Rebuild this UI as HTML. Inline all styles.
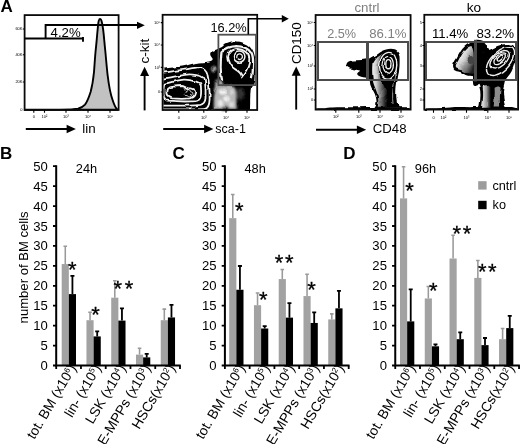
<!DOCTYPE html>
<html lang="en">
<head>
<meta charset="utf-8">
<title>Figure</title>
<style>
html,body{margin:0;padding:0;background:#fff;}
body{width:520px;height:444px;overflow:hidden;}
svg{display:block;font-family:"Liberation Sans",sans-serif;}
</style>
</head>
<body>
<svg width="520" height="444" viewBox="0 0 520 444">
<defs>
<filter id="rough" x="-5%" y="-5%" width="110%" height="110%"><feTurbulence type="fractalNoise" baseFrequency="0.1" numOctaves="2" seed="4" result="n"/><feDisplacementMap in="SourceGraphic" in2="n" scale="3.5" xChannelSelector="R" yChannelSelector="G"/></filter>
<filter id="blur1"><feGaussianBlur stdDeviation="1.1"/></filter>
<filter id="blur07"><feGaussianBlur stdDeviation="0.7"/></filter>
<linearGradient id="g3" gradientUnits="userSpaceOnUse" x1="371.5" y1="0" x2="387" y2="0"><stop offset="0" stop-color="#f4f4f4"/><stop offset="0.3" stop-color="#cfcfcf"/><stop offset="0.62" stop-color="#6e6e6e"/><stop offset="1" stop-color="#000"/></linearGradient>
<linearGradient id="g4" gradientUnits="userSpaceOnUse" x1="458" y1="54" x2="476" y2="64"><stop offset="0" stop-color="#fafafa"/><stop offset="0.35" stop-color="#cfcfcf"/><stop offset="0.7" stop-color="#7a7a7a"/><stop offset="1" stop-color="#222"/></linearGradient>
<linearGradient id="g4s" gradientUnits="userSpaceOnUse" x1="482" y1="0" x2="491" y2="0"><stop offset="0" stop-color="#eee"/><stop offset="0.5" stop-color="#9a9a9a"/><stop offset="1" stop-color="#000"/></linearGradient>
</defs>
<rect width="520" height="444" fill="#fff"/>
<!-- panel letters -->
<g font-weight="bold" font-size="17">
<text x="0.4" y="12.3">A</text>
<text x="0" y="158.7">B</text>
<text x="172.6" y="158.7">C</text>
<text x="343.2" y="158.7">D</text>
</g>

<!-- ===== plot 1 : histogram ===== -->
<g id="p1">
<path d="M25 109.8 L60 109.6 C68 109.5 74 109.4 78 108.6 C81 107.8 83.4 106.4 85 104.6 C87.4 101.6 89 97 90.6 92 C92.2 86 93.2 80 94 72 C94.6 64 95 57 95.7 50 C96.5 43 97 36 97.6 30 C98 25 98.4 21.4 99 20 C99.4 18.6 100.6 18.6 101.2 20 C102 22 102.6 25.6 103.2 30 C104 36 104.4 43 105.2 50 C106 58 106.6 66 107.6 75 C108.8 85 110.4 94 112.6 100 C114 104.4 115.4 108 117.6 109.8 Z" fill="#c2c2c2" stroke="#000" stroke-width="1.9" stroke-linejoin="round"/>
<rect x="24.6" y="15.1" width="94" height="94.9" fill="none" stroke="#0a0a0a" stroke-width="1.8"/>
<path d="M24.5 38.5H83M83 37v4.8M45.6 38.5V25H138" stroke="#000" stroke-width="1.9" fill="none"/>
<path d="M144.8 25.3l-7.8-3.6v7.2z" fill="#000"/>
<text x="50.6" y="37.2" font-size="13.2">4.2%</text>
<g font-size="4" text-anchor="end" fill="#000"><text x="22.5" y="30.2">60K</text><text x="22.5" y="56">40K</text><text x="22.5" y="83.2">20K</text><text x="22.5" y="110.5">0</text></g>
<path d="M22.8 29h1.7M22.8 54.8h1.7M22.8 82h1.7M33.8 110v2.8M44.5 110v2.8M66 110v2.8M88 110v2.8M110 110v2.8" stroke="#000" stroke-width="1.1"/>
<g font-size="4" text-anchor="middle" fill="#000"><text x="33.8" y="118.3">0</text><text x="44.5" y="118.3">10²</text><text x="66" y="118.3">10³</text><text x="88" y="118.3">10⁴</text><text x="110" y="118.3">10⁵</text></g>
<path d="M25.8 129H68" stroke="#000" stroke-width="1.9"/><path d="M75.9 129l-9.3-4.3v8.6z"/>
<text x="82.3" y="132.6" font-size="13.4">lin</text>
</g>

<!-- ===== plot 2 : c-kit / sca-1 ===== -->
<g id="p2">
<g filter="url(#rough)" transform="translate(0.4 0.8)">
<path d="M163 68 C170 66.8 176 66.2 181 65.6 C188 64.6 193 62.4 198.5 61.7 C203 61.2 206 61.4 208.5 60.8 C211 60.2 212.6 59.6 212.2 57.8 C211.4 56 209.4 55 209.8 52.6 C210.2 50.2 213 49.2 215.8 48.4 C217.5 47.6 219.6 47.4 221.5 46.3 C223 45.3 224 43.8 225.4 42.8 C229 40.8 233 40.4 236.9 40.6 C240.5 40.8 243.8 41.8 246.5 43.8 C249.6 46 252 49 253.3 52.4 C255.2 58 255.4 63 255.3 68.5 C255.2 74 255.6 79 254.2 83.8 C253.4 86 250.8 86 250.4 88 C249.4 95 250 102 249.6 109.3 L163 109.3 Z" fill="#000"/>
<!-- low density grey zone -->
<g filter="url(#blur1)">
<path d="M215.6 87 C219 83.5 230 84 234.6 87 C237 93 235.6 100 236.4 108.4 L213.6 108.4 C213 100 213.6 93 215.6 87Z" fill="#b8b8b8"/>
<path d="M216 79.6 C218 77.6 222 78.6 223 82 L222 87 L215.4 87Z" fill="#a0a0a0"/>
<ellipse cx="222" cy="91" rx="3.4" ry="2.6" fill="#f4f4f4"/>
<ellipse cx="226.6" cy="97.6" rx="2.6" ry="3.6" fill="#efefef"/>
<ellipse cx="220" cy="102" rx="2.8" ry="3" fill="#e8e8e8"/>
<ellipse cx="231" cy="103.6" rx="2.4" ry="2.6" fill="#ddd"/><ellipse cx="231.6" cy="91" rx="2" ry="2.4" fill="#d8d8d8"/><ellipse cx="224.6" cy="107.6" rx="4" ry="2.2" fill="#000"/>
<ellipse cx="213.5" cy="68.5" rx="2.6" ry="3" fill="#a8a8a8"/>
<ellipse cx="240" cy="93" rx="4" ry="6" fill="#333"/>
</g>
<!-- lower-left contour rings -->
<g fill="none" stroke="#f2f2f2" stroke-width="1.8">
<path d="M162.5 71.7 C175 70.5 188 68 198.7 66.4 C203 66 206 69 206.9 72.9 C208.5 80 209.4 90 209.2 98.7 C209 104 207.5 107.4 204.5 108 C200 108.8 180 108.6 162.5 108.6"/>
<path d="M163 77.8 C172 76.5 181 74.2 189.3 73.5 C193 73.3 196 74.2 198.7 74.7 C202 75.6 204 77.5 204.5 80 C205.3 86 205.4 92 205.1 97.5 C204.8 101.5 203 103.5 199.9 104 C190 105 175 105 162.5 104.8"/>
<path d="M165.3 82.9 C170 81.4 177 79.2 183.4 78.8 C188 78.6 192 79.6 195.2 80.5 C198.6 81.4 200.2 83 200.4 85.2 C200.8 88 200.8 92 200.4 95.2 C200 98.4 198.4 100 195.2 100.4 C186 101 175 100.6 167 99.9 C165 99.4 164.2 96 164.1 92.8 C164 89 164.2 85 165.3 82.9Z"/>
<path d="M167.6 88.1 C168.8 86.6 170.6 85.9 172.9 85.8 C176 85.4 178.6 85.2 181.1 85.2 C184 85.4 185 87 187.6 87.4 C190.6 87.4 193.4 88.4 194.6 90.5 C195.4 93 193.4 96.6 189.3 97.5 C184 98.2 177 98 171.7 97.5 C168.6 97 167 95.2 167 92.8 C166.9 91 167 89.4 167.6 88.1Z"/>
</g>
<path d="M186.4 89.4 c1.6 -1 3.4 -.6 3.6 1 c.2 1.4 1.8 .4 2.4 1.6 c.4 1.4 -1.4 1.6 -1.6 3 c-.6 1.4 -2.8 1.4 -3.6 .2 c-.8 -1 -2.4 .2 -2.8 -1.2 c-.2 -1.6 1.6 -1.4 1.4 -2.8 c-.2 -.8 0 -1.4 .6 -1.8z" fill="none" stroke="#dcdcdc" stroke-width="1"/>
<path d="M183.6 87.6 l1.4 1.2 M189.6 93.2 l1 .8" stroke="#ccc" stroke-width="0.9"/>
<!-- upper-right contours -->
<g fill="none" stroke="#f2f2f2" stroke-linecap="round">
<path d="M221.6 78 C220 72 219.8 62 221.2 51.5 C225 47.6 231 45.4 236.9 45.4 C243 45.6 248 48 250.6 52 C253 56 252.9 62 252.6 66 C252.4 70 252.4 73 251.6 76.5" stroke-width="2.3"/>
<path d="M227.7 54.5 C228.4 50.6 232 48.2 236.9 48.2 C243 48.4 248.6 52 248.9 57.7 C249.2 64 246 70.6 241.5 76 C240.6 72.6 238.4 70.4 235 68.6 C231 66.4 227.4 60 227.7 54.5Z" stroke-width="1.8"/>
<circle cx="238.8" cy="55.8" r="5.7" stroke-width="1.5"/>
<path d="M236.4 56.8 C236 54 238 52.8 240 53.2 C242 53.8 242.6 56 241.4 57.6 C240.4 58.8 238.6 58.8 237.6 58" stroke-width="1.3"/>
</g>
</g>
<rect x="162.6" y="14.8" width="94.6" height="95.2" fill="none" stroke="#0a0a0a" stroke-width="1.8"/>
<rect x="218.4" y="34.7" width="37.6" height="50.4" fill="none" stroke="#505050" stroke-width="1.8"/>
<path d="M248.3 34.4V18.8H283" stroke="#000" stroke-width="1.6" fill="none"/>
<path d="M288.8 18.8l-7-3.8v7.6z"/>
<text x="210.4" y="32.4" font-size="12.8">16.2%</text>
<path d="M160.8 22.6h2.2M160.8 45h2.2M160.8 67.4h2.2M160.8 92h2.2M178.8 110v2.8M203.8 110v2.8M226 110v2.8M247 110v2.8" stroke="#000" stroke-width="1.1"/>
<g font-size="4" text-anchor="end" fill="#000"><text x="160.2" y="23.8">10⁵</text><text x="160.2" y="46.2">10⁴</text><text x="160.2" y="68.6">10³</text><text x="160.2" y="93.2">0</text></g>
<g font-size="4" text-anchor="middle" fill="#000"><text x="178.8" y="118.6">0</text><text x="203.8" y="118.6">10³</text><text x="226" y="118.6">10⁴</text><text x="247" y="118.6">10⁵</text></g>
<text transform="translate(148.7 63.4) rotate(-90)" font-size="13.5">c-kit</text>
<path d="M144.6 110.4V75" stroke="#000" stroke-width="1.9"/><path d="M144.6 66.8l-4.5 9.3h9z"/>
<path d="M163.2 129H206" stroke="#000" stroke-width="1.9"/><path d="M213.4 129l-9.3-4.3v8.6z"/>
<text x="215.3" y="132.9" font-size="12.5">sca-1</text>
</g>

<!-- ===== plot 3 : cntrl ===== -->
<g id="p3">
<g filter="url(#rough)">
<!-- bottom strip -->
<path d="M316 110 L316 108.6 C320 107.8 324 108.8 330 107.6 C340 106.8 352 107.4 366 107 L409.5 107.2 L410 110Z" fill="#000"/>
<path d="M346.4 64.6 C346.8 61.6 350 60.4 354 60.4 C359 60.4 364 59.8 368.8 58.8 C371 57.4 373 56.2 375.5 55 C377.6 53.6 379 52 381.3 51.2 C384.4 49.6 387.6 48.7 390.9 48.7 C393.6 48.8 396.2 49.4 397.7 51.2 C399.4 53.4 399.6 56 399.6 58.8 C399.8 64 399.4 69 398.6 74.2 C398 77.6 397.4 80.6 396.9 83.8 C396.4 87 396.2 90 396.2 93.5 C396.2 97 396.4 100 397 103 C397.6 105 398.6 106.2 400.4 107.6 L374 107.6 C375.6 106 376.6 103.6 376.5 101 C376.3 98.4 375.6 96 374.6 93.5 C373.4 90.8 371.6 88.6 370.7 85.8 C370 84 369.9 82 369.8 80 C369 79 368 78.4 367.3 78 C364.6 77.4 361.6 77.2 359.2 76 C357.8 75.4 356.8 74.4 357.3 73.3 C358 72 360 71.4 360 70.4 C357.6 69.8 355 69.8 352.5 69.2 C350.6 68.8 348.4 68.2 347.3 67 C346.6 66.4 346.3 65.4 346.4 64.6Z" fill="#000"/>
<g filter="url(#blur07)">
<path d="M372.6 62.6 C374.6 58.6 378 55.6 382.4 53.6 C380 57 378.6 62 378.6 68 C378.6 74 380.4 79 383 84 C386 90 388 97 388.4 106.8 L377.8 106.8 C378.6 102 378.4 98 377.4 94 C376.4 90 374.4 87 373.4 83 C372.2 78 371.8 68 372.6 62.6Z" fill="url(#g3)"/>
<path d="M396.6 60 C397 68 396.4 76 394 84 C392.6 90 392.2 97 393 104" fill="none" stroke="#ddd" stroke-width="0.7"/>
</g>
<g fill="none" stroke="#f2f2f2" stroke-width="1.35">
<path d="M379.4 66 C379.4 59 383 53 388.6 52.4 C394 52.2 397 58 396.8 65 C396.6 72 393 79 388.6 79.2 C383.4 79 379.6 73 379.4 66Z"/>
<ellipse cx="388.2" cy="64.8" rx="5.2" ry="8.4"/>
<ellipse cx="388.4" cy="64.2" rx="2.6" ry="4.6"/>
</g>
</g>
<rect x="315.6" y="15" width="95" height="94.6" fill="none" stroke="#0a0a0a" stroke-width="1.8"/>
<rect x="318" y="42" width="90" height="38" fill="none" stroke="#4c4c4c" stroke-width="2"/>
<path d="M367.5 42V80" stroke="#4c4c4c" stroke-width="3"/>
<text x="354.4" y="12.4" font-size="13.3" fill="#7f7f7f">cntrl</text>
<text x="327.2" y="37.8" font-size="12.7" fill="#7f7f7f">2.5%</text>
<text x="369.2" y="38" font-size="13.2" fill="#7f7f7f">86.1%</text>
<path d="M313.8 22.5h2.2M313.8 45.5h2.2M313.8 66h2.2M313.8 89h2.2M313.8 100h2.2M335.8 110v2.8M358.8 110v2.8M380 110v2.8M401 110v2.8" stroke="#000" stroke-width="1.1"/>
<g font-size="4" text-anchor="end" fill="#000"><text x="313.2" y="23.7">10⁵</text><text x="313.2" y="46.7">10⁴</text><text x="313.2" y="67.2">10³</text><text x="313.2" y="90.2">10²</text><text x="313.2" y="101.2">0</text></g>
<g font-size="4" text-anchor="middle" fill="#000"><text x="335.8" y="118.4">10²</text><text x="358.8" y="118.4">10³</text><text x="380" y="118.4">10⁴</text><text x="401" y="118.4">10⁵</text></g>
<text transform="translate(301.3 64) rotate(-90)" font-size="13.4">CD150</text>
<path d="M296.2 109.6V74" stroke="#000" stroke-width="1.9"/><path d="M296.2 66.4l-4.5 9.3h9z"/>
<path d="M316 129.7H358" stroke="#000" stroke-width="1.9"/><path d="M366.2 129.7l-9.3-4.3v8.6z"/>
<text x="372.8" y="133.2" font-size="13.2">CD48</text>
</g>

<!-- ===== plot 4 : ko ===== -->
<g id="p4">
<g filter="url(#rough)">
<path d="M424.6 110 L424.6 108.6 C432 107.8 440 108.4 450 107.4 C458 106.8 468 107.4 478 107 L512 107 C514 107.6 516 108 517.6 108.6 L517.8 110Z" fill="#000"/>
<path d="M472.9 43.2 C471.4 43 469.6 43.4 468.2 44.1 C466 45.4 464 47 462.5 48.8 C460.2 51.8 458.6 55 456.9 58.3 C455.4 60.8 453.6 63.2 453.1 65.8 C452.8 67.8 453.6 69.6 455 70.5 C457 71.6 459.6 71.6 461.6 72.4 C463.4 73.2 464.6 74.6 466.3 75.2 C468.6 76 471.4 75.8 473.8 76.2 C473 77.8 472.4 79.8 472.9 81.8 C473.2 83.2 473 84.8 473.8 85.6 C475 86.6 477 85.4 478.5 84.7 C479.6 87 480.2 89.6 480.4 92.2 C480.6 96.6 480.2 101 479.5 105.4 L478.6 107.6 L506.5 107.6 C505.6 107 505.2 106.2 504.9 105.4 C503.8 101 503 96.6 503 92.2 C503.2 88.4 503.8 84.6 504.9 80.9 C506.8 77.6 509.6 74.8 511.5 71.5 C513.6 67.4 514.8 62.8 515.3 58.3 C515.8 54.6 515.8 50.8 514.4 47.9 C513.2 45.6 511 44.4 508.7 44.1 C504.8 43.8 501 44.6 497.4 46 C494 47.4 491.2 49.4 488 50.7 C485 51.8 481.6 52.8 478.5 52.6 C476.8 52 476 50.4 475.7 48.8 C475.2 46.6 474.4 44.4 472.9 43.2Z" fill="#000"/>
<path d="M467.6 45 C469.6 43 472.6 42 475.4 40.2 C477.4 39.4 480 39.8 482 40.6 C484.4 41.6 485.6 43 486.6 45 C487.6 47 489 49 490 51 L478 54 L471 48Z" fill="#000"/>
<g filter="url(#blur07)">
<path d="M471.4 46 C472.8 48 473.4 51 473.6 54 C473.8 60 474 66 474 73.6 C470 73.8 467 73 464.6 71.4 C462 70 458.6 70 456.4 68.6 C455.2 67.4 455.6 65.4 456.6 63.6 C458.6 60 460.4 56 463 52.4 C465.2 49.4 468 46.6 471.4 46Z" fill="url(#g4)"/>
<ellipse cx="470.6" cy="60" rx="3" ry="4" fill="#444"/>
<path d="M482.6 86 C484.6 84.6 488 85 490.4 87 C491.6 93 491.4 100 490.4 106.8 L482 106.8 C483.2 100 483.6 92 482.6 86Z" fill="url(#g4s)"/>
<path d="M494.6 88 C497 86 499.6 86 500.6 88 C500 94 499.6 100 500 106.6 L493.6 106.6 C494.6 100 495 94 494.6 88Z" fill="#8c8c8c"/>
</g>
<g fill="none" stroke="#f2f2f2" stroke-width="1.35">
<g transform="rotate(-42 500.2 58.3)">
<ellipse cx="500.4" cy="58.2" rx="3.8" ry="1.8"/>
<ellipse cx="499.8" cy="58.6" rx="7.6" ry="4"/>
<ellipse cx="498.8" cy="59" rx="11.8" ry="6.4"/>
</g>
<path d="M487.6 73.6 C485.4 69 487 63 491 58 C495.6 52.4 503 46.6 509.4 46.6 C513.6 47 514 52 513.2 57 C512 63 508 68 503 71.6 C498 75 490.6 77.4 487.6 73.6Z"/>
</g>
</g>
<rect x="424.3" y="14.8" width="93.8" height="94.8" fill="none" stroke="#0a0a0a" stroke-width="1.8"/>
<rect x="426" y="42" width="90" height="38" fill="none" stroke="#4c4c4c" stroke-width="2"/>
<path d="M475.5 39.8V81.4" stroke="#4c4c4c" stroke-width="3"/>
<text x="473.9" y="12.4" text-anchor="middle" font-size="13.6">ko</text>
<text x="431.9" y="37.9" font-size="13.2">11.4%</text>
<text x="476.4" y="37.9" font-size="13.3">83.2%</text>
<path d="M422.5 22.5h2.2M422.5 45.5h2.2M422.5 66h2.2M422.5 89h2.2M422.5 100h2.2M433.5 110v2.8M443.4 110v2.8M466.5 110v2.8M487.8 110v2.8M509 110v2.8" stroke="#000" stroke-width="1.1"/>
<g font-size="4" text-anchor="end" fill="#000"><text x="421.9" y="23.7">5</text><text x="421.9" y="46.7">4</text><text x="421.9" y="67.2">3</text><text x="421.9" y="90.2">2</text><text x="421.9" y="101.2">0</text></g>
<g font-size="4" text-anchor="middle" fill="#000"><text x="433.5" y="118.6">0</text><text x="443.4" y="118.6">10²</text><text x="466.5" y="118.6">10³</text><text x="487.8" y="118.6">10⁴</text><text x="509" y="118.6">10⁵</text></g>
</g>

<!-- legend -->
<rect x="478.2" y="181.2" width="8.4" height="8.4" fill="#9c9c9c"/>
<rect x="478.2" y="200.8" width="8.4" height="8.4" fill="#000"/>
<text x="492.4" y="189.7" font-size="12.7">cntrl</text>
<text x="492.6" y="208.9" font-size="12.7">ko</text>
<text transform="translate(28.2 323.4) rotate(-90)" font-size="13.1">number of BM cells</text>

<g id="chartB">
<path d="M65.28 264.04V246.25M63.48 246.25h3.6" stroke="#9a9a9a" stroke-width="1.55" fill="none"/>
<path d="M72.43 294.1V275.91M70.43 275.91h4" stroke="#000" stroke-width="1.8" fill="none"/>
<rect x="61.7" y="264.04" width="7.15" height="101.46" fill="#a2a2a2"/>
<rect x="68.85" y="294.1" width="7.15" height="71.4" fill="#000"/>
<path d="M90.04 320.2V312.29M88.24 312.29h3.6" stroke="#9a9a9a" stroke-width="1.55" fill="none"/>
<path d="M97.19 336.42V331.28M95.19 331.28h4" stroke="#000" stroke-width="1.8" fill="none"/>
<rect x="86.46" y="320.2" width="7.15" height="45.3" fill="#a2a2a2"/>
<rect x="93.61" y="336.42" width="7.15" height="29.08" fill="#000"/>
<path d="M114.8 297.66V280.65M113 280.65h3.6" stroke="#9a9a9a" stroke-width="1.55" fill="none"/>
<path d="M121.95 320.6V308.34M119.95 308.34h4" stroke="#000" stroke-width="1.8" fill="none"/>
<rect x="111.22" y="297.66" width="7.15" height="67.84" fill="#a2a2a2"/>
<rect x="118.37" y="320.6" width="7.15" height="44.9" fill="#000"/>
<path d="M139.56 354.61V348.28M137.75 348.28h3.6" stroke="#9a9a9a" stroke-width="1.55" fill="none"/>
<path d="M146.71 357.38V353.82M144.71 353.82h4" stroke="#000" stroke-width="1.8" fill="none"/>
<rect x="135.98" y="354.61" width="7.15" height="10.89" fill="#a2a2a2"/>
<rect x="143.13" y="357.38" width="7.15" height="8.12" fill="#000"/>
<path d="M164.31 320.2V309.13M162.51 309.13h3.6" stroke="#9a9a9a" stroke-width="1.55" fill="none"/>
<path d="M171.47 317.44V304.78M169.47 304.78h4" stroke="#000" stroke-width="1.8" fill="none"/>
<rect x="160.74" y="320.2" width="7.15" height="45.3" fill="#a2a2a2"/>
<rect x="167.89" y="317.44" width="7.15" height="48.06" fill="#000"/>
<path d="M56.2 165.3V366.5M55.2 365.5H180.8" stroke="#000" stroke-width="2" fill="none"/>
<path d="M53 365.5h3.2M53 345.57h3.2M53 325.64h3.2M53 305.71h3.2M53 285.78h3.2M53 265.85h3.2M53 245.92h3.2M53 225.99h3.2M53 206.06h3.2M53 186.13h3.2M53 166.2h3.2M56.2 365.5v3.6M80.96 365.5v3.6M105.72 365.5v3.6M130.48 365.5v3.6M155.24 365.5v3.6M180 365.5v3.6" stroke="#000" stroke-width="1.8" fill="none"/>
<text x="47.9" y="369.8" text-anchor="end" font-size="13.1">0</text>
<text x="47.9" y="349.9" text-anchor="end" font-size="13.1">5</text>
<text x="47.9" y="330" text-anchor="end" font-size="13.1">10</text>
<text x="47.9" y="310.1" text-anchor="end" font-size="13.1">15</text>
<text x="47.9" y="290.2" text-anchor="end" font-size="13.1">20</text>
<text x="47.9" y="270.3" text-anchor="end" font-size="13.1">25</text>
<text x="47.9" y="250.4" text-anchor="end" font-size="13.1">30</text>
<text x="47.9" y="230.5" text-anchor="end" font-size="13.1">35</text>
<text x="47.9" y="210.6" text-anchor="end" font-size="13.1">40</text>
<text x="47.9" y="190.7" text-anchor="end" font-size="13.1">45</text>
<text x="47.9" y="170.8" text-anchor="end" font-size="13.1">50</text>
<text x="75.8" y="173" font-size="12.8">24h</text>
<text transform="translate(76.8 367.9) rotate(-59.5)" text-anchor="end" font-size="13.85">tot. BM (x10<tspan font-size="8" dy="-4.5">6</tspan><tspan dy="4.5">)</tspan></text>
<text transform="translate(101.56 367.9) rotate(-59.5)" text-anchor="end" font-size="13.85">lin- (x10<tspan font-size="8" dy="-4.5">5</tspan><tspan dy="4.5">)</tspan></text>
<text transform="translate(126.32 367.9) rotate(-59.5)" text-anchor="end" font-size="13.85">LSK (x10<tspan font-size="8" dy="-4.5">4</tspan><tspan dy="4.5">)</tspan></text>
<text transform="translate(151.08 367.9) rotate(-59.5)" text-anchor="end" font-size="13.85">E-MPPs (x10<tspan font-size="8" dy="-4.5">3</tspan><tspan dy="4.5">)</tspan></text>
<text transform="translate(175.84 367.9) rotate(-59.5)" text-anchor="end" font-size="13.85">HSCs(x10<tspan font-size="8" dy="-4.5">2</tspan><tspan dy="4.5">)</tspan></text>
<text x="72.2" y="276.6" text-anchor="middle" font-size="22" stroke="#000" stroke-width="0.3">*</text>
<text x="95.5" y="322.2" text-anchor="middle" font-size="22" stroke="#000" stroke-width="0.3">*</text>
<text x="117.8" y="296.4" text-anchor="middle" font-size="22" stroke="#000" stroke-width="0.3">*</text>
<text x="129" y="296.4" text-anchor="middle" font-size="22" stroke="#000" stroke-width="0.3">*</text>
</g>
<g id="chartC">
<path d="M232.78 218.16V194.44M230.97 194.44h3.6" stroke="#9a9a9a" stroke-width="1.55" fill="none"/>
<path d="M239.93 289.75V266.02M237.93 266.02h4" stroke="#000" stroke-width="1.8" fill="none"/>
<rect x="229.2" y="218.16" width="7.15" height="147.34" fill="#a2a2a2"/>
<rect x="236.35" y="289.75" width="7.15" height="75.75" fill="#000"/>
<path d="M257.54 305.18V292.91M255.74 292.91h3.6" stroke="#9a9a9a" stroke-width="1.55" fill="none"/>
<path d="M264.69 328.51V326.14M262.69 326.14h4" stroke="#000" stroke-width="1.8" fill="none"/>
<rect x="253.96" y="305.18" width="7.15" height="60.33" fill="#a2a2a2"/>
<rect x="261.11" y="328.51" width="7.15" height="36.99" fill="#000"/>
<path d="M282.3 279.07V269.58M280.5 269.58h3.6" stroke="#9a9a9a" stroke-width="1.55" fill="none"/>
<path d="M289.44 317.63V303.2M287.44 303.2h4" stroke="#000" stroke-width="1.8" fill="none"/>
<rect x="278.72" y="279.07" width="7.15" height="86.43" fill="#a2a2a2"/>
<rect x="285.87" y="317.63" width="7.15" height="47.87" fill="#000"/>
<path d="M307.06 296.08V274.33M305.25 274.33h3.6" stroke="#9a9a9a" stroke-width="1.55" fill="none"/>
<path d="M314.2 322.97V312.29M312.2 312.29h4" stroke="#000" stroke-width="1.8" fill="none"/>
<rect x="303.48" y="296.08" width="7.15" height="69.42" fill="#a2a2a2"/>
<rect x="310.63" y="322.97" width="7.15" height="42.53" fill="#000"/>
<path d="M331.81 319.41V313.88M330.01 313.88h3.6" stroke="#9a9a9a" stroke-width="1.55" fill="none"/>
<path d="M338.96 308.34V290.94M336.96 290.94h4" stroke="#000" stroke-width="1.8" fill="none"/>
<rect x="328.24" y="319.41" width="7.15" height="46.09" fill="#a2a2a2"/>
<rect x="335.39" y="308.34" width="7.15" height="57.16" fill="#000"/>
<path d="M224.9 165.3V366.5M223.9 365.5H349.5" stroke="#000" stroke-width="2" fill="none"/>
<path d="M221.7 365.5h3.2M221.7 345.57h3.2M221.7 325.64h3.2M221.7 305.71h3.2M221.7 285.78h3.2M221.7 265.85h3.2M221.7 245.92h3.2M221.7 225.99h3.2M221.7 206.06h3.2M221.7 186.13h3.2M221.7 166.2h3.2M224.9 365.5v3.6M249.66 365.5v3.6M274.42 365.5v3.6M299.18 365.5v3.6M323.94 365.5v3.6M348.7 365.5v3.6" stroke="#000" stroke-width="1.8" fill="none"/>
<text x="216.6" y="369.8" text-anchor="end" font-size="13.1">0</text>
<text x="216.6" y="349.9" text-anchor="end" font-size="13.1">5</text>
<text x="216.6" y="330" text-anchor="end" font-size="13.1">10</text>
<text x="216.6" y="310.1" text-anchor="end" font-size="13.1">15</text>
<text x="216.6" y="290.2" text-anchor="end" font-size="13.1">20</text>
<text x="216.6" y="270.3" text-anchor="end" font-size="13.1">25</text>
<text x="216.6" y="250.4" text-anchor="end" font-size="13.1">30</text>
<text x="216.6" y="230.5" text-anchor="end" font-size="13.1">35</text>
<text x="216.6" y="210.6" text-anchor="end" font-size="13.1">40</text>
<text x="216.6" y="190.7" text-anchor="end" font-size="13.1">45</text>
<text x="216.6" y="170.8" text-anchor="end" font-size="13.1">50</text>
<text x="244.5" y="173" font-size="12.8">48h</text>
<text transform="translate(245.5 367.9) rotate(-59.5)" text-anchor="end" font-size="13.85">tot. BM (x10<tspan font-size="8" dy="-4.5">6</tspan><tspan dy="4.5">)</tspan></text>
<text transform="translate(270.26 367.9) rotate(-59.5)" text-anchor="end" font-size="13.85">lin- (x10<tspan font-size="8" dy="-4.5">5</tspan><tspan dy="4.5">)</tspan></text>
<text transform="translate(295.02 367.9) rotate(-59.5)" text-anchor="end" font-size="13.85">LSK (x10<tspan font-size="8" dy="-4.5">4</tspan><tspan dy="4.5">)</tspan></text>
<text transform="translate(319.78 367.9) rotate(-59.5)" text-anchor="end" font-size="13.85">E-MPPs (x10<tspan font-size="8" dy="-4.5">3</tspan><tspan dy="4.5">)</tspan></text>
<text transform="translate(344.54 367.9) rotate(-59.5)" text-anchor="end" font-size="13.85">HSCs(x10<tspan font-size="8" dy="-4.5">2</tspan><tspan dy="4.5">)</tspan></text>
<text x="239.2" y="217.9" text-anchor="middle" font-size="22" stroke="#000" stroke-width="0.3">*</text>
<text x="263.2" y="306.8" text-anchor="middle" font-size="22" stroke="#000" stroke-width="0.3">*</text>
<text x="279" y="270.2" text-anchor="middle" font-size="22" stroke="#000" stroke-width="0.3">*</text>
<text x="289.2" y="270.2" text-anchor="middle" font-size="22" stroke="#000" stroke-width="0.3">*</text>
<text x="311.5" y="297.3" text-anchor="middle" font-size="22" stroke="#000" stroke-width="0.3">*</text>
</g>
<g id="chartD">
<path d="M403.57 198.39V166.75M401.77 166.75h3.6" stroke="#9a9a9a" stroke-width="1.55" fill="none"/>
<path d="M410.72 321.39V289.36M408.72 289.36h4" stroke="#000" stroke-width="1.8" fill="none"/>
<rect x="400" y="198.39" width="7.15" height="167.11" fill="#a2a2a2"/>
<rect x="407.15" y="321.39" width="7.15" height="44.11" fill="#000"/>
<path d="M428.33 298.45V286.59M426.53 286.59h3.6" stroke="#9a9a9a" stroke-width="1.55" fill="none"/>
<path d="M435.48 346.31V344.33M433.48 344.33h4" stroke="#000" stroke-width="1.8" fill="none"/>
<rect x="424.76" y="298.45" width="7.15" height="67.05" fill="#a2a2a2"/>
<rect x="431.91" y="346.31" width="7.15" height="19.19" fill="#000"/>
<path d="M453.09 258.51V235.17M451.29 235.17h3.6" stroke="#9a9a9a" stroke-width="1.55" fill="none"/>
<path d="M460.24 339.19V332.46M458.24 332.46h4" stroke="#000" stroke-width="1.8" fill="none"/>
<rect x="449.52" y="258.51" width="7.15" height="106.99" fill="#a2a2a2"/>
<rect x="456.67" y="339.19" width="7.15" height="26.31" fill="#000"/>
<path d="M477.85 277.89V260.48M476.05 260.48h3.6" stroke="#9a9a9a" stroke-width="1.55" fill="none"/>
<path d="M485 345.12V338M483 338h4" stroke="#000" stroke-width="1.8" fill="none"/>
<rect x="474.28" y="277.89" width="7.15" height="87.61" fill="#a2a2a2"/>
<rect x="481.43" y="345.12" width="7.15" height="20.38" fill="#000"/>
<path d="M502.62 339.19V328.51M500.81 328.51h3.6" stroke="#9a9a9a" stroke-width="1.55" fill="none"/>
<path d="M509.76 328.11V315.85M507.76 315.85h4" stroke="#000" stroke-width="1.8" fill="none"/>
<rect x="499.04" y="339.19" width="7.15" height="26.31" fill="#a2a2a2"/>
<rect x="506.19" y="328.11" width="7.15" height="37.39" fill="#000"/>
<path d="M395.25 165.3V366.5M394.25 365.5H519.85" stroke="#000" stroke-width="2" fill="none"/>
<path d="M392.05 365.5h3.2M392.05 345.57h3.2M392.05 325.64h3.2M392.05 305.71h3.2M392.05 285.78h3.2M392.05 265.85h3.2M392.05 245.92h3.2M392.05 225.99h3.2M392.05 206.06h3.2M392.05 186.13h3.2M392.05 166.2h3.2M395.25 365.5v3.6M420.01 365.5v3.6M444.77 365.5v3.6M469.53 365.5v3.6M494.29 365.5v3.6M519.05 365.5v3.6" stroke="#000" stroke-width="1.8" fill="none"/>
<text x="386.95" y="369.8" text-anchor="end" font-size="13.1">0</text>
<text x="386.95" y="349.9" text-anchor="end" font-size="13.1">5</text>
<text x="386.95" y="330" text-anchor="end" font-size="13.1">10</text>
<text x="386.95" y="310.1" text-anchor="end" font-size="13.1">15</text>
<text x="386.95" y="290.2" text-anchor="end" font-size="13.1">20</text>
<text x="386.95" y="270.3" text-anchor="end" font-size="13.1">25</text>
<text x="386.95" y="250.4" text-anchor="end" font-size="13.1">30</text>
<text x="386.95" y="230.5" text-anchor="end" font-size="13.1">35</text>
<text x="386.95" y="210.6" text-anchor="end" font-size="13.1">40</text>
<text x="386.95" y="190.7" text-anchor="end" font-size="13.1">45</text>
<text x="386.95" y="170.8" text-anchor="end" font-size="13.1">50</text>
<text x="414.85" y="173" font-size="12.8">96h</text>
<text transform="translate(415.85 367.9) rotate(-59.5)" text-anchor="end" font-size="13.85">tot. BM (x10<tspan font-size="8" dy="-4.5">6</tspan><tspan dy="4.5">)</tspan></text>
<text transform="translate(440.61 367.9) rotate(-59.5)" text-anchor="end" font-size="13.85">lin- (x10<tspan font-size="8" dy="-4.5">5</tspan><tspan dy="4.5">)</tspan></text>
<text transform="translate(465.37 367.9) rotate(-59.5)" text-anchor="end" font-size="13.85">LSK (x10<tspan font-size="8" dy="-4.5">4</tspan><tspan dy="4.5">)</tspan></text>
<text transform="translate(490.13 367.9) rotate(-59.5)" text-anchor="end" font-size="13.85">E-MPPs (x10<tspan font-size="8" dy="-4.5">3</tspan><tspan dy="4.5">)</tspan></text>
<text transform="translate(514.89 367.9) rotate(-59.5)" text-anchor="end" font-size="13.85">HSCs(x10<tspan font-size="8" dy="-4.5">2</tspan><tspan dy="4.5">)</tspan></text>
<text x="409.5" y="197.9" text-anchor="middle" font-size="22" stroke="#000" stroke-width="0.3">*</text>
<text x="433.2" y="297.6" text-anchor="middle" font-size="22" stroke="#000" stroke-width="0.3">*</text>
<text x="456.8" y="240.5" text-anchor="middle" font-size="22" stroke="#000" stroke-width="0.3">*</text>
<text x="467" y="240.5" text-anchor="middle" font-size="22" stroke="#000" stroke-width="0.3">*</text>
<text x="482.2" y="279" text-anchor="middle" font-size="22" stroke="#000" stroke-width="0.3">*</text>
<text x="492.3" y="279" text-anchor="middle" font-size="22" stroke="#000" stroke-width="0.3">*</text>
</g>
</svg>
</body>
</html>
